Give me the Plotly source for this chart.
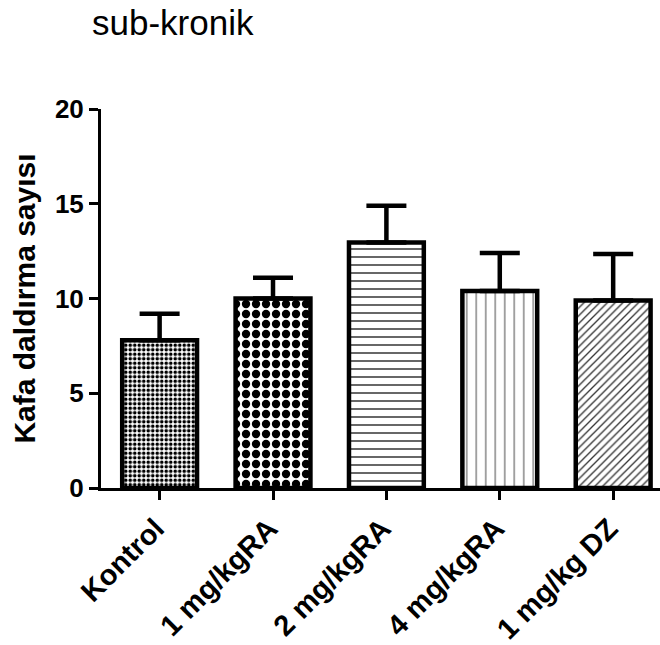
import plotly.graph_objects as go

categories = ["Kontrol", "1 mg/kgRA", "2 mg/kgRA", "4 mg/kgRA", "1 mg/kg DZ"]
means = [7.8, 10.0, 12.95, 10.4, 9.9]
sem = [1.4, 1.1, 1.95, 2.0, 2.45]
y_ticks = [0, 5, 10, 15, 20]

W, H = 660, 645
FONT = "Liberation Sans, Arial, sans-serif"

fig = go.Figure()
fig.add_trace(go.Bar(
    x=list(range(len(categories))),
    y=means,
    marker=dict(
        color="white",
        line=dict(color="black", width=4.5),
        pattern=dict(
            shape=[".", ".", "-", "|", "/"],
            size=[4.5, 10, 8, 9.5, 5.5],
            solidity=[0.5, 0.55, 0.16, 0.14, 0.24],
            fgcolor=["black", "black", "#111111", "#777777", "#333333"],
            bgcolor="white",
            fgopacity=1,
            fillmode="replace",
        ),
    ),
    error_y=dict(type="data", array=sem, arrayminus=[0] * len(sem), symmetric=False,
                 color="black", thickness=4.5, width=20),
    showlegend=False,
    hoverinfo="skip",
))

fig.update_layout(
    width=W, height=H,
    margin=dict(l=101, r=0, t=109, b=H - 488),
    paper_bgcolor="white", plot_bgcolor="white",
    bargap=0.34,
    font=dict(family=FONT, color="black"),
    title=dict(text="sub-kronik", x=92 / W, xanchor="left", y=1 - 23 / H, yanchor="middle",
               font=dict(size=35, family=FONT, color="black")),
    xaxis=dict(
        range=[-0.517, 4.413],
        tickmode="array", tickvals=list(range(len(categories))), ticktext=categories,
        tickangle=-45,
        ticks="outside", ticklen=9, tickwidth=3, tickcolor="black",
        showline=True, linecolor="black", linewidth=3,
        showgrid=False, zeroline=False,
        ticklabelshift=-4,
        tickfont=dict(size=29, family=FONT, color="black", weight="bold"),
    ),
    yaxis=dict(
        range=[0, 20],
        tickmode="array", tickvals=y_ticks,
        ticks="outside", ticklen=9, tickwidth=3, tickcolor="black",
        showline=True, linecolor="black", linewidth=3,
        showgrid=False, zeroline=False,
        tickfont=dict(size=26, family=FONT, color="black", weight="bold"),
        title=dict(text="Kafa daldırma sayısı", standoff=11,
                   font=dict(size=30, family=FONT, color="black", weight="bold")),
    ),
)

fig.write_html("out.html", config={"displayModeBar": False},
               post_script="document.body.style.margin='0';")
